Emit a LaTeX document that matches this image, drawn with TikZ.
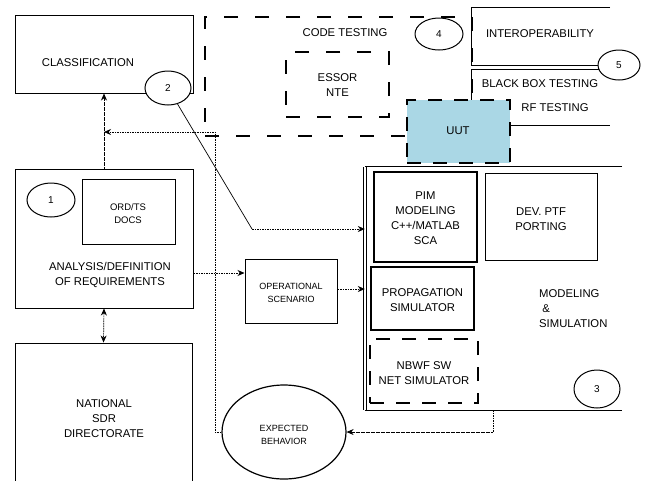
\documentclass[tikz,border=0pt]{standalone}
\usepackage{fontspec}
\setmainfont{Liberation Sans}
\usetikzlibrary{shapes.geometric,arrows.meta,calc}
\definecolor{uutblue}{RGB}{170,215,229}
\tikzset{
  box/.style={draw, line width=1pt, inner sep=0pt},
  frame/.style={inner sep=0pt},
  openline/.style={line width=1pt},
  dbox/.style={draw, line width=1.4pt, dash pattern=on 14pt off 12pt, inner sep=0pt},
  widedash/.style={dash pattern=on 14pt off 17pt},
  num/.style={ellipse, draw, line width=1pt, fill=white, inner sep=0pt,
    font=\fontsize{10}{12}\selectfont},
  txt/.style={align=center, inner sep=0pt, font=\fontsize{11.3}{15}\selectfont},
  small/.style={align=center, inner sep=0pt, font=\fontsize{9}{13}\selectfont},
  tip/.style={-{Stealth[length=7pt,width=6pt]}},
  conn/.style={line width=0.7pt, dash pattern=on 1.6pt off 0.9pt, tip},
  conntwo/.style={line width=0.7pt, dash pattern=on 1.6pt off 0.9pt,
    {Stealth[length=7pt,width=6pt]}-{Stealth[length=7pt,width=6pt]}},
  plain/.style={line width=0.7pt},
}
\begin{document}
\begin{tikzpicture}[x=1pt,y=-1pt]
\useasboundingbox (0,0) rectangle (647,480);

% --- classification ---
\node[box, minimum width=178pt, minimum height=78pt] (cls) at (104,54) {};
\node[txt] (clsT) at (88,63) {CLASSIFICATION};

% --- code testing area ---
\node[dbox, widedash, minimum width=267pt, minimum height=119pt] (code) at (338.5,76.5) {};
\node[txt] (codeT) at (345,33) {CODE TESTING};
\node[dbox, widedash, minimum width=103pt, minimum height=65pt] (essor) at (337.5,84.5) {};
\node[txt] (essorT) at (337.5,85) {ESSOR\\NTE};

% --- interoperability / black box (open on the right) ---
\node[frame, minimum width=138pt, minimum height=57pt] (interop) at (541,36.5) {};
\draw[openline] (interop.north east) -- (interop.north west) -- (interop.south west) -- (interop.south east);
\node[txt] (interopT) at (540,34) {INTEROPERABILITY};
\node[frame, minimum width=138pt, minimum height=55pt] (bbox) at (541,97.5) {};
\draw[openline] (bbox.north east) -- (bbox.north west) -- (bbox.south west) -- (bbox.south east);
\node[txt] (bbT) at (540,84) {BLACK BOX TESTING};
\node[txt] (rfT) at (555,108) {RF TESTING};

% --- unit under test ---
\node[dbox, fill=uutblue, minimum width=103pt, minimum height=63pt] (uut) at (458.5,131.5) {};
\node[txt] (uutT) at (458,131) {UUT};

% --- analysis of requirements ---
\node[box, minimum width=178pt, minimum height=139pt] (ana) at (104,238.5) {};
\node[box, minimum width=93pt, minimum height=65pt] (ord) at (128.5,211.5) {};
\node[small, font=\fontsize{9.5}{13}\selectfont] (ordT) at (128,214) {ORD/TS\\DOCS};
\node[txt] (anaT) at (110,275) {ANALYSIS/DEFINITION\\OF REQUIREMENTS};

% --- national directorate ---
\node[box, minimum width=177pt, minimum height=142pt] (sdr) at (103.5,414) {};
\node[txt] (sdrT) at (104,419) {NATIONAL\\SDR\\DIRECTORATE};

% --- operational scenario ---
\node[box, minimum width=92pt, minimum height=64pt] (ops) at (291,291) {};
\node[small] (opsT) at (291,292.5) {OPERATIONAL\\SCENARIO};

% --- modeling & simulation (open on the right) ---
\node[frame, minimum width=257pt, minimum height=243pt] (mod) at (493.5,288.5) {};
\draw[openline] (mod.north east) -- (mod.north west);
\draw[openline] (mod.south west) -- (mod.south east);
\draw[line width=1pt, double, double distance=2.4pt] (mod.north west) -- (mod.south west);
\node[box, line width=1.3pt, minimum width=103pt, minimum height=90pt] (pim) at (425.5,217) {};
\node[txt] (pimT) at (425.5,218) {PIM\\MODELING\\C++/MATLAB\\SCA};
\node[box, minimum width=112pt, minimum height=87pt] (dev) at (541,216.5) {};
\node[txt] (devT) at (541,219) {DEV. PTF\\PORTING};
\node[box, line width=1.3pt, minimum width=103pt, minimum height=63pt] (prop) at (422.5,298.5) {};
\node[txt] (propT) at (422.5,300) {PROPAGATION\\SIMULATOR};
\node[txt, align=left, anchor=north west] (modT) at (539,289) {MODELING\\\ \&\\SIMULATION};
\node[dbox, minimum width=108pt, minimum height=64pt] (nbwf) at (424,371) {};
\node[txt] (nbwfT) at (424,373) {NBWF SW\\NET SIMULATOR};

% --- expected behaviour ---
\node[ellipse, draw, line width=1.2pt, minimum width=124pt, minimum height=94pt, inner sep=0pt] (exp) at (284,432) {};
\node[small] (expT) at (284,435) {EXPECTED\\BEHAVIOR};

% --- numbered markers ---
\node[num, minimum width=46pt, minimum height=34pt] (n2) at (168,88) {2};
\node[num, minimum width=48pt, minimum height=32pt] (n4) at (439,34) {4};
\node[num, minimum width=42pt, minimum height=30pt] (n5) at (619,65) {5};
\node[num, minimum width=48pt, minimum height=34pt] (n1) at (51,200) {1};
\node[num, minimum width=46pt, minimum height=38pt] (n3) at (597,389) {3};

% --- connectors ---
\coordinate (fbCorner) at (215,432);
\coordinate (fbEnd) at (104,132);
\coordinate (bend) at (252,229);
\coordinate (modOut) at (493,410);

\draw[conn] (ana.north) -- (cls.south);
\draw[conntwo] (ana.south) -- (sdr.north);
\draw[conn] (ana.east |- 0,273) -- (ops.west |- 0,273);
\draw[conn] (ops.east |- 0,289) -- (mod.west |- 0,289);
\draw[plain] (n2) -- (bend);
\draw[conn] (bend) -- (mod.west |- bend);
\draw[conn] (exp.west) -- (fbCorner) |- (fbEnd);
\draw[conn] (modOut) |- (exp.east);
\end{tikzpicture}
\end{document}
